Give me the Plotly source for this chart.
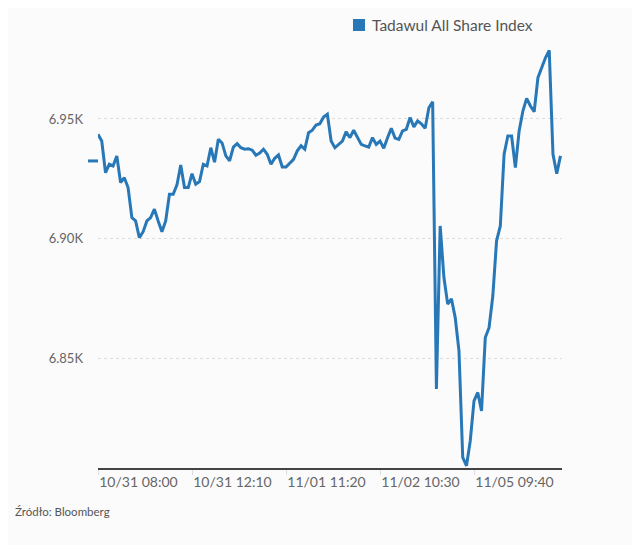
import plotly.graph_objects as go

# Tadawul All Share Index, 10-minute intraday closes
index_values = [
    6943.6, 6940.8, 6927.6, 6931.1, 6930.4, 6934.6, 6923.5, 6925.5, 6921.4, 6908.9,
    6907.5, 6900.5, 6903.0, 6907.5, 6908.9, 6912.4, 6907.5, 6903.0, 6907.5, 6918.6,
    6918.6, 6922.5, 6930.8, 6921.4, 6921.4, 6927.2, 6922.8, 6923.9, 6931.1, 6930.4,
    6938.0, 6932.0, 6941.5, 6940.0, 6934.6, 6932.5, 6938.3, 6939.7, 6938.0, 6937.4,
    6937.6, 6937.0, 6934.9, 6935.8, 6937.4, 6935.3, 6931.1, 6933.6, 6935.0, 6930.0,
    6930.0, 6931.4, 6933.2, 6936.7, 6938.8, 6937.4, 6944.3, 6945.3, 6947.5, 6948.0,
    6950.8, 6952.0, 6940.8, 6938.0, 6939.4, 6940.8, 6944.7, 6942.2, 6945.3, 6942.0,
    6939.4, 6938.8, 6938.3, 6942.2, 6939.4, 6940.8, 6937.8, 6942.2, 6946.1, 6942.0,
    6941.5, 6945.0, 6945.7, 6950.6, 6946.7, 6949.2, 6948.0, 6946.1, 6954.7, 6957.2,
    6837.4, 6905.4, 6883.9, 6872.8, 6875.0, 6867.2, 6853.3, 6808.9, 6805.4, 6815.8,
    6832.5, 6836.0, 6828.3, 6858.9, 6863.0, 6876.2, 6899.2, 6905.4, 6935.3, 6942.9,
    6942.9, 6929.7, 6945.0, 6953.3, 6958.6, 6955.4, 6953.0, 6967.2, 6971.7, 6975.5,
    6978.6, 6935.3, 6927.2, 6934.6,
]
previous_close = 6932.5

tick_positions = [0, 25, 50, 75, 100]
tick_labels = ["10/31 08:00", "10/31 12:10", "11/01 11:20", "11/02 10:30", "11/05 09:40"]

y_tickvals = [6850, 6900, 6950]
y_ticktext = ["6.85K", "6.90K", "6.95K"]

series_name = "Tadawul All Share Index"
source_text = "Źródło: Bloomberg"

LINE_COLOR = "#2878b8"
TEXT_COLOR = "#666666"
FONT = "Lato"

W, H = 640, 545
M_L, M_R, M_T, M_B = 90, 86, 39, 85
PLOT_W = W - M_L - M_R
PLOT_H = H - M_T - M_B


def px_x(px):
    # figure pixel -> paper x
    return (px - M_L) / PLOT_W


def px_y(px):
    # figure pixel (from top) -> paper y
    return (H - M_B - px) / PLOT_H


fig = go.Figure()

# main price line
fig.add_trace(go.Scatter(
    x=list(range(len(index_values))),
    y=index_values,
    mode="lines",
    line=dict(color=LINE_COLOR, width=3),
    name=series_name,
    showlegend=False,
))

shapes = [
    # previous close dash, just left of the plot area
    dict(type="line", xref="paper", yref="y",
         x0=px_x(M_L - 10), x1=px_x(M_L), y0=previous_close, y1=previous_close,
         line=dict(color=LINE_COLOR, width=3)),
    # legend swatch
    dict(type="rect", xref="paper", yref="paper",
         x0=px_x(345), x1=px_x(357), y0=px_y(23), y1=px_y(11),
         fillcolor=LINE_COLOR, line=dict(width=0)),
]

annotations = [
    dict(text=series_name, xref="paper", yref="paper",
         x=px_x(362), y=px_y(17), xanchor="left", yanchor="middle",
         showarrow=False, font=dict(size=15.5, color="#555555")),
    dict(text=source_text, xref="paper", yref="paper",
         x=px_x(5), y=px_y(504), xanchor="left", yanchor="middle",
         showarrow=False, font=dict(size=11.5, color="#555555")),
]

fig.update_layout(
    width=W,
    height=H,
    margin=dict(l=M_L, r=M_R, t=M_T, b=M_B),
    paper_bgcolor="#fbfbfb",
    plot_bgcolor="#fbfbfb",
    font=dict(family=FONT, color=TEXT_COLOR, size=13),
    showlegend=False,
    shapes=shapes,
    annotations=annotations,
    xaxis=dict(
        range=[0, len(index_values) - 0.6],
        tickmode="array",
        tickvals=tick_positions,
        ticktext=tick_labels,
        ticklabelposition="outside right",
        showgrid=False,
        zeroline=False,
        showline=True,
        linecolor="#444444",
        linewidth=1.5,
        ticks="outside",
        ticklen=5,
        tickcolor="#dddddd",
        tickfont=dict(size=14, color=TEXT_COLOR),
    ),
    yaxis=dict(
        range=[6804.5, 6980],
        tickmode="array",
        tickvals=y_tickvals,
        ticktext=y_ticktext,
        showgrid=True,
        gridcolor="#dcdcdc",
        griddash="dot",
        gridwidth=1,
        zeroline=False,
        showline=False,
        ticklabelstandoff=14,
        tickfont=dict(size=13, color=TEXT_COLOR),
    ),
)

fig.write_html("out.html")
